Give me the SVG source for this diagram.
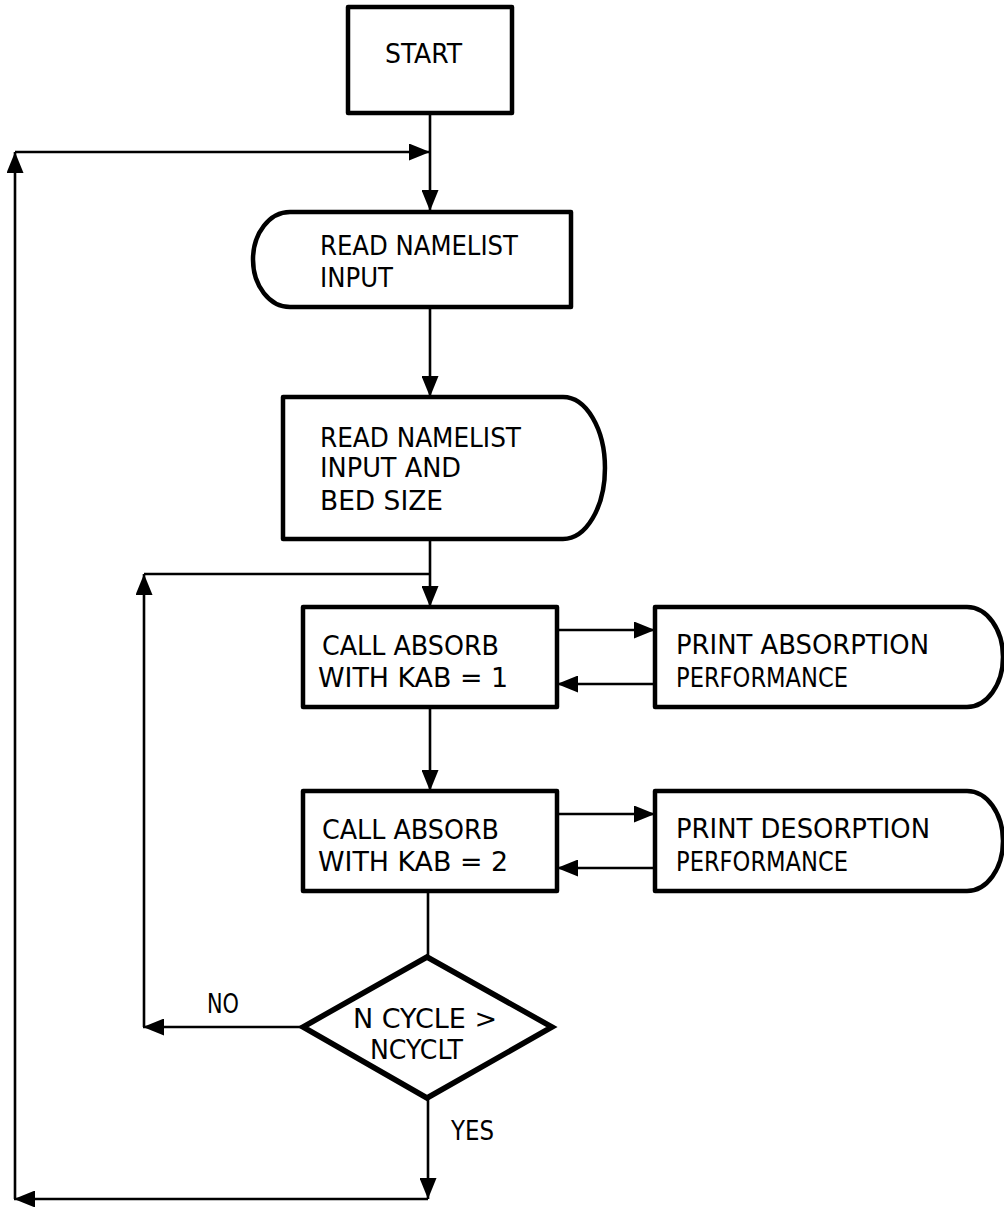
<svg xmlns="http://www.w3.org/2000/svg" width="1004" height="1207" viewBox="0 0 1004 1207">
<style>
  .node { fill: #fff; stroke: #000; stroke-width: 4.5; stroke-linejoin: round; }
  .dia { fill: #fff; stroke: #000; stroke-width: 5.5; stroke-linejoin: miter; }
  .conn { fill: none; stroke: #000; stroke-width: 2.6; }
  text { font-family: "DejaVu Sans Condensed", "DejaVu Sans", sans-serif; font-size: 26.5px; fill: #000; }
</style>
<defs>
  <marker id="arr" markerUnits="userSpaceOnUse" markerWidth="22" markerHeight="17" refX="21" refY="8.5" orient="auto">
    <path d="M0,0 L21,8.5 L0,17 Z" fill="#000"/>
  </marker>
</defs>
<rect width="1004" height="1207" fill="#fff"/>
<g id="connectors">
  <path class="conn" d="M430,113 V211" marker-end="url(#arr)"/>
  <path class="conn" d="M15,152 H430" marker-end="url(#arr)"/>
  <path class="conn" d="M430,307 V397" marker-end="url(#arr)"/>
  <path class="conn" d="M430,539 V607" marker-end="url(#arr)"/>
  <path class="conn" d="M144,574 H430"/>
  <path class="conn" d="M430,707 V791" marker-end="url(#arr)"/>
  <path class="conn" d="M428,891 V957"/>
  <path class="conn" d="M557,630 H655" marker-end="url(#arr)"/>
  <path class="conn" d="M655,684 H557" marker-end="url(#arr)"/>
  <path class="conn" d="M557,814 H655" marker-end="url(#arr)"/>
  <path class="conn" d="M655,868 H557" marker-end="url(#arr)"/>
  <path class="conn" d="M303,1027 H143" marker-end="url(#arr)"/>
  <path class="conn" d="M144,1027 V574" marker-end="url(#arr)"/>
  <path class="conn" d="M428,1098 V1199" marker-end="url(#arr)"/>
  <path class="conn" d="M428,1199 H14" marker-end="url(#arr)"/>
  <path class="conn" d="M15,1199 V152" marker-end="url(#arr)"/>
</g>
<g id="start">
  <rect class="node" x="348" y="7" width="164" height="106"/>
  <text x="385" y="63" textLength="77" lengthAdjust="spacingAndGlyphs">START</text>
</g>
<g id="read1">
  <path class="node" d="M290,212 H571 V307 H290 A37,47.5 0 0 1 290,212 Z"/>
  <text x="320" y="255" textLength="198" lengthAdjust="spacingAndGlyphs">READ NAMELIST</text>
  <text x="320" y="287" textLength="73" lengthAdjust="spacingAndGlyphs">INPUT</text>
</g>
<g id="read2">
  <path class="node" d="M283,397 H563 A42,71 0 0 1 563,539 H283 Z"/>
  <text x="320" y="447" textLength="201" lengthAdjust="spacingAndGlyphs">READ NAMELIST</text>
  <text x="320" y="477" textLength="141" lengthAdjust="spacingAndGlyphs">INPUT AND</text>
  <text x="320" y="510" textLength="123" lengthAdjust="spacingAndGlyphs">BED SIZE</text>
</g>
<g id="absorb1">
  <rect class="node" x="303" y="607" width="254" height="100"/>
  <text x="322" y="655" textLength="177" lengthAdjust="spacingAndGlyphs">CALL ABSORB</text>
  <text x="318" y="687" textLength="190" lengthAdjust="spacingAndGlyphs">WITH KAB = 1</text>
</g>
<g id="print1">
  <path class="node" d="M655,607 H967 A36,50 0 0 1 967,707 H655 Z"/>
  <text x="676" y="654" textLength="253" lengthAdjust="spacingAndGlyphs">PRINT ABSORPTION</text>
  <text x="676" y="687" textLength="172" lengthAdjust="spacingAndGlyphs">PERFORMANCE</text>
</g>
<g id="absorb2">
  <rect class="node" x="303" y="791" width="254" height="100"/>
  <text x="322" y="839" textLength="177" lengthAdjust="spacingAndGlyphs">CALL ABSORB</text>
  <text x="318" y="871" textLength="190" lengthAdjust="spacingAndGlyphs">WITH KAB = 2</text>
</g>
<g id="print2">
  <path class="node" d="M655,791 H967 A36,50 0 0 1 967,891 H655 Z"/>
  <text x="676" y="838" textLength="254" lengthAdjust="spacingAndGlyphs">PRINT DESORPTION</text>
  <text x="676" y="871" textLength="172" lengthAdjust="spacingAndGlyphs">PERFORMANCE</text>
</g>
<g id="decision">
  <path class="dia" d="M427,957 L552,1027 L427,1098 L303,1027 Z"/>
  <text x="353" y="1028" textLength="144" lengthAdjust="spacingAndGlyphs">N CYCLE &gt;</text>
  <text x="370" y="1059" textLength="93" lengthAdjust="spacingAndGlyphs">NCYCLT</text>
</g>
<g id="labels">
  <text x="207" y="1013" textLength="32" lengthAdjust="spacingAndGlyphs">NO</text>
  <text x="451" y="1140" textLength="43" lengthAdjust="spacingAndGlyphs">YES</text>
</g>
</svg>
